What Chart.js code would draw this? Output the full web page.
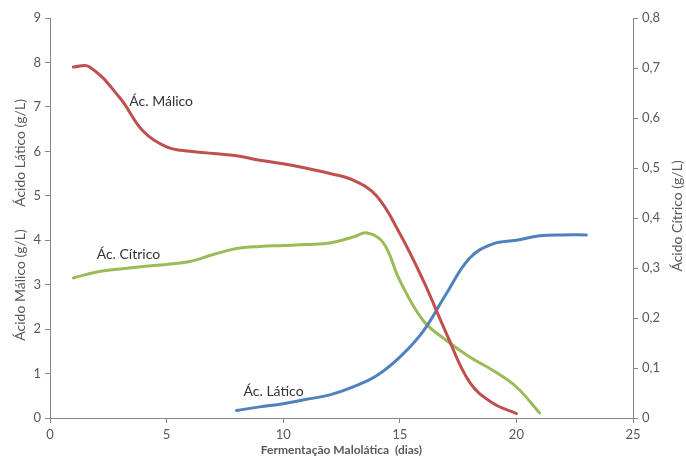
<!DOCTYPE html>
<html>
<head>
<meta charset="utf-8">
<script src="https://cdn.jsdelivr.net/npm/chart.js@4"></script>
<style>
  html, body { margin: 0; padding: 0; background: #fff; }
  #wrap { width: 686px; height: 457px; position: relative; }
</style>
</head>
<body>
<div id="wrap"><canvas id="grafico"></canvas></div>
<script>
// Dados (dias de fermentação)
const malicoDias = [1, 1.7, 3, 4, 5, 6, 7, 8, 9, 10, 11, 12, 13, 14, 15, 16, 17, 18, 19, 20];
const malicoValores = [7.9, 7.9, 7.2, 6.45, 6.1, 6.0, 5.95, 5.9, 5.8, 5.72, 5.62, 5.5, 5.35, 5.0, 4.15, 3.1, 1.9, 0.8, 0.33, 0.1];

const laticoDias = [8, 9, 10, 11, 12, 13, 14, 15, 16, 17, 18, 19, 20, 21, 22, 23];
const laticoValores = [0.17, 0.25, 0.32, 0.42, 0.52, 0.7, 0.95, 1.37, 1.95, 2.8, 3.6, 3.92, 4.0, 4.1, 4.12, 4.12];

const citricoDias = [1, 2, 3, 4, 5, 6, 7, 8, 9, 10, 11, 12, 13, 13.6, 14.3, 15, 16, 17, 18, 19, 20, 21];
const citricoValores = [0.28, 0.292, 0.298, 0.303, 0.307, 0.313, 0.327, 0.339, 0.343, 0.345, 0.347, 0.35, 0.362, 0.37, 0.35, 0.275, 0.195, 0.155, 0.122, 0.095, 0.062, 0.01];

const xTicks = ["0", "5", "10", "15", "20", "25"];
const esquerdaTicks = ["0", "1", "2", "3", "4", "5", "6", "7", "8", "9"];
const direitaTicks = ["0", "0,1", "0,2", "0,3", "0,4", "0,5", "0,6", "0,7", "0,8"];

// Rótulos das séries dentro do gráfico (dia, valor no eixo esquerdo)
const rotulos = [
    { texto: "Ác. Málico", dia: 3.4, valor: 7.13 },
    { texto: "Ác. Cítrico", dia: 2.0, valor: 3.69 },
    { texto: "Ác. Lático", dia: 8.3, valor: 0.6 }
];

const corEixo = "#868686";
const corTexto = "#595959";
const fonte = "Lato, 'Open Sans', sans-serif";

function pontos(dias, valores) {
    return dias.map((d, i) => ({ x: d, y: valores[i] }));
}

// Títulos dos eixos e rótulos das curvas
const textosPlugin = {
    id: "textos",
    afterDraw(chart) {
        const ctx = chart.ctx;
        const x = chart.scales.x;
        const y = chart.scales.y;
        ctx.save();
        ctx.fillStyle = "#333333";
        ctx.textBaseline = "middle";

        ctx.font = "14px " + fonte;
        ctx.textAlign = "left";
        rotulos.forEach((r) => {
            ctx.fillText(r.texto, x.getPixelForValue(r.dia), y.getPixelForValue(r.valor));
        });

        ctx.textAlign = "center";
        ctx.fillStyle = corTexto;
        ctx.font = "bold 12px " + fonte;
        ctx.fillText("Fermentação Malolática  (dias)", (chart.chartArea.left + chart.chartArea.right) / 2, 450);

        ctx.font = "14px " + fonte;
        const vertical = (texto, px, py) => {
            ctx.save();
            ctx.translate(px, py);
            ctx.rotate(-Math.PI / 2);
            ctx.fillText(texto, 0, 0);
            ctx.restore();
        };
        vertical("Ácido Lático (g/L)", 20, 153);
        vertical("Ácido Málico (g/L)", 20, 285);
        vertical("Ácido Cítrico (g/L)", 677, 216);

        ctx.restore();
    }
};

const eixoGrid = {
    drawOnChartArea: false,
    drawTicks: true,
    tickLength: 5,
    color: corEixo
};

const ctx = document.getElementById("grafico").getContext("2d");
const grafico = new Chart(ctx, {
    type: "line",
    data: {
        datasets: [
            {
                label: "Ác. Málico",
                data: pontos(malicoDias, malicoValores),
                borderColor: "#C0504D",
                yAxisID: "y"
            },
            {
                label: "Ác. Lático",
                data: pontos(laticoDias, laticoValores),
                borderColor: "#4F81BD",
                yAxisID: "y"
            },
            {
                label: "Ác. Cítrico",
                data: pontos(citricoDias, citricoValores),
                borderColor: "#9BBB59",
                yAxisID: "y1"
            }
        ]
    },
    options: {
        responsive: true,
        maintainAspectRatio: false,
        animation: false,
        devicePixelRatio: 1,
        layout: { padding: { top: 18, left: 0, right: 0, bottom: 0 } },
        elements: {
            line: { borderWidth: 3, tension: 0.4, fill: false, borderCapStyle: "round" },
            point: { radius: 0 }
        },
        scales: {
            x: {
                type: "linear",
                min: 0,
                max: 25,
                grid: eixoGrid,
                border: { color: corEixo },
                ticks: {
                    stepSize: 5,
                    padding: 4,
                    color: corTexto,
                    font: { family: fonte, size: 13 },
                    callback: (v, i) => xTicks[i]
                },
                afterFit: (s) => { s.height = 39; }
            },
            y: {
                position: "left",
                min: 0,
                max: 9,
                grid: eixoGrid,
                border: { color: corEixo },
                ticks: {
                    stepSize: 1,
                    padding: 4,
                    color: corTexto,
                    font: { family: fonte, size: 13 },
                    callback: (v, i) => esquerdaTicks[i]
                },
                afterFit: (s) => { s.width = 50; }
            },
            y1: {
                position: "right",
                min: 0,
                max: 0.8,
                grid: eixoGrid,
                border: { color: corEixo },
                ticks: {
                    stepSize: 0.1,
                    padding: 4,
                    color: corTexto,
                    font: { family: fonte, size: 13 },
                    callback: (v, i) => direitaTicks[i]
                },
                afterFit: (s) => { s.width = 53; }
            }
        },
        plugins: {
            legend: { display: false },
            tooltip: { enabled: false }
        }
    },
    plugins: [textosPlugin]
});
</script>
</body>
</html>
